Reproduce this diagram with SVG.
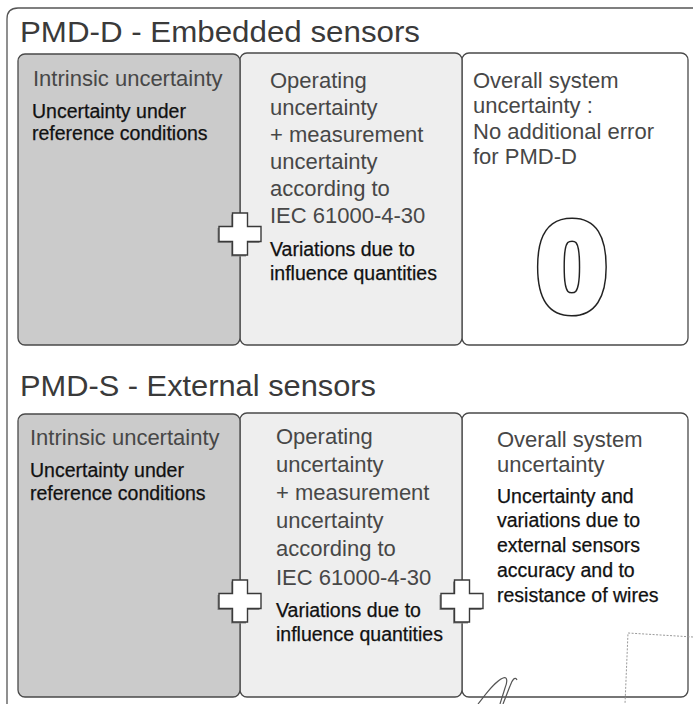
<svg xmlns="http://www.w3.org/2000/svg" width="693" height="704" viewBox="0 0 693 704">
  <style>
    text { font-family: "Liberation Sans", Arial, sans-serif; }
    .title { font-size: 29px; fill: #3a3a3a; }
    .head { font-size: 22px; fill: #474747; }
    .body { font-size: 19.5px; fill: #111; stroke: #111; stroke-width: 0.25; }
    .frame { fill: none; stroke: #555; stroke-width: 1.3; }
    .box { stroke: #4a4a4a; stroke-width: 1.3; }
    .dark { fill: #cbcbcb; }
    .light { fill: #eeeeee; }
    .white { fill: #ffffff; }
    .plus { fill: #fff; stroke: #3a3a3a; stroke-width: 1.4; }
    .plus-shadow { fill: #8a8a8a; }
    .zero-out { font-size: 124px; font-weight: bold; fill: #222; stroke: #222; stroke-width: 11; stroke-linejoin: round; }
    .zero-in { font-size: 124px; font-weight: bold; fill: #fff; stroke: #fff; stroke-width: 8; stroke-linejoin: round; }
    .mark { fill: none; stroke: #9a9a9a; stroke-width: 1; stroke-dasharray: 2 1.5; }
    .sig { fill: none; stroke: #555; stroke-width: 1.2; }
  </style>
  <defs>
    <path id="plusShape" d="M-7.5,-21 h15 v13.5 h13.5 v15 h-13.5 v13.5 h-15 v-13.5 h-13.5 v-15 h13.5 z"/>
  </defs>

  <rect x="0" y="0" width="693" height="704" fill="#ffffff"/>

  <!-- outer frame -->
  <path class="frame" d="M7,710 V19 Q7,8 18,8 H700"/>

  <!-- PMD-D section -->
  <g id="title-pmd-d">
    <text class="title" x="20" y="42" textLength="400" lengthAdjust="spacingAndGlyphs">PMD-D - Embedded sensors</text>
  </g>

  <g id="d-overall">
    <rect class="box white" x="462" y="53" width="226" height="292" rx="7"/>
    <text class="head" x="473" y="88">Overall system</text>
    <text class="head" x="473" y="113">uncertainty :</text>
    <text class="head" x="473" y="139">No additional error</text>
    <text class="head" x="473" y="164">for PMD-D</text>
    <text class="zero-out" x="572" y="310" text-anchor="middle">0</text>
    <text class="zero-in" x="572" y="310" text-anchor="middle">0</text>
  </g>

  <g id="d-operating">
    <rect class="box light" x="240" y="53" width="222" height="292" rx="7"/>
    <text class="head" x="270" y="88">Operating</text>
    <text class="head" x="270" y="115">uncertainty</text>
    <text class="head" x="270" y="142">+ measurement</text>
    <text class="head" x="270" y="169">uncertainty</text>
    <text class="head" x="270" y="196">according to</text>
    <text class="head" x="270" y="223">IEC 61000-4-30</text>
    <text class="body" x="270" y="256">Variations due to</text>
    <text class="body" x="270" y="280">influence quantities</text>
  </g>

  <g id="d-intrinsic">
    <rect class="box dark" x="18" y="54" width="222" height="291" rx="7"/>
    <text class="head" x="33" y="86">Intrinsic uncertainty</text>
    <text class="body" x="32" y="118">Uncertainty under</text>
    <text class="body" x="32" y="140">reference conditions</text>
  </g>

  <!-- PMD-S section -->
  <g id="title-pmd-s">
    <text class="title" x="20" y="396" textLength="356" lengthAdjust="spacingAndGlyphs">PMD-S - External sensors</text>
  </g>

  <g id="s-overall">
    <rect class="box white" x="462" y="413" width="226" height="284" rx="7"/>
    <text class="head" x="497" y="447">Overall system</text>
    <text class="head" x="497" y="472">uncertainty</text>
    <text class="body" x="497" y="503">Uncertainty and</text>
    <text class="body" x="497" y="527">variations due to</text>
    <text class="body" x="497" y="552">external sensors</text>
    <text class="body" x="497" y="577">accuracy and to</text>
    <text class="body" x="497" y="602">resistance of wires</text>
  </g>

  <g id="s-operating">
    <rect class="box light" x="240" y="413" width="222" height="284" rx="7"/>
    <text class="head" x="276" y="444">Operating</text>
    <text class="head" x="276" y="472">uncertainty</text>
    <text class="head" x="276" y="500">+ measurement</text>
    <text class="head" x="276" y="528">uncertainty</text>
    <text class="head" x="276" y="556">according to</text>
    <text class="head" x="276" y="585">IEC 61000-4-30</text>
    <text class="body" x="276" y="617">Variations due to</text>
    <text class="body" x="276" y="641">influence quantities</text>
  </g>

  <g id="s-intrinsic">
    <rect class="box dark" x="18" y="414" width="222" height="283" rx="7"/>
    <text class="head" x="30" y="445">Intrinsic uncertainty</text>
    <text class="body" x="30" y="477">Uncertainty under</text>
    <text class="body" x="30" y="500">reference conditions</text>
  </g>

  <!-- plus connectors -->
  <g id="connectors">
    <use href="#plusShape" class="plus-shadow" transform="translate(238.5,235.5)"/>
    <use href="#plusShape" class="plus" transform="translate(240,234)"/>
    <use href="#plusShape" class="plus-shadow" transform="translate(238.5,602.5)"/>
    <use href="#plusShape" class="plus" transform="translate(240,601)"/>
    <use href="#plusShape" class="plus-shadow" transform="translate(460.5,602.5)"/>
    <use href="#plusShape" class="plus" transform="translate(462,601)"/>
  </g>

  <!-- scan marks: signature and stamp -->
  <path class="sig" d="M478,704 C486,694 494,682 503,678 C507,676 508,681 505,688 L500,704 M503,704 L510,686 C512,680 515,676 517,680"/>
  <path class="mark" d="M693,637 L628,633 L625,704"/>
</svg>
